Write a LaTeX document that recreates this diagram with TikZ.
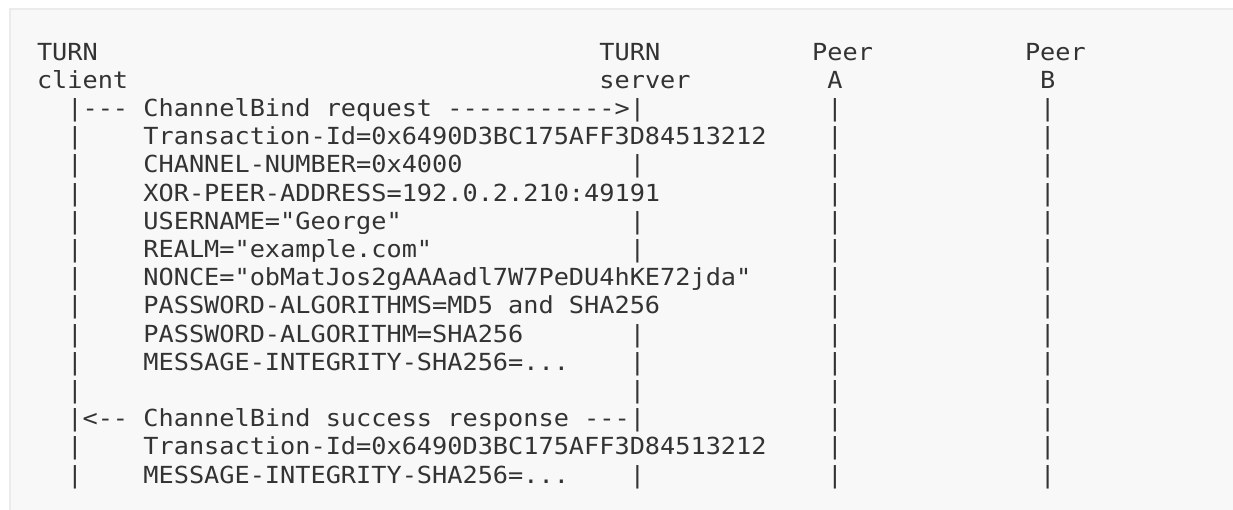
\documentclass[tikz,border=0pt]{standalone}
\usepackage{fontspec}
\setmonofont{DejaVu Sans Mono}[FakeStretch=1.0744]
\definecolor{ink}{HTML}{333333}
\definecolor{panel}{HTML}{F8F8F8}
\definecolor{rim}{HTML}{EBEBEB}
\begin{document}
\begin{tikzpicture}[x=1pt,y=1pt,
  txt/.style={anchor=base west, inner sep=0pt, outer sep=0pt, text=ink,
              font=\ttfamily\fontsize{23.5}{28.2}\selectfont},
  lifebar/.style={txt}]
\def\cw{15.2}\def\lh{28.2}\def\xo{37}\def\yo{60}
\useasboundingbox (0,0) rectangle (1233,-509);
\clip (0,0) rectangle (1233,-509);
\fill[white] (0,0) rectangle (1233,-509);
\filldraw[fill=panel, draw=rim, line width=2pt] (10,-9) rectangle (1260,-540);
% headers
\node[txt] (clientT) at ({\xo+0*\cw},{-\yo-0*\lh}) {TURN};
\node[txt] (clientL) at ({\xo+0*\cw},{-\yo-1*\lh}) {client};
\node[txt] (serverT) at ({\xo+37*\cw},{-\yo-0*\lh}) {TURN};
\node[txt] (serverL) at ({\xo+37*\cw},{-\yo-1*\lh}) {server};
\node[txt] (peerAT) at ({\xo+51*\cw},{-\yo-0*\lh}) {Peer};
\node[txt] (peerAL) at ({\xo+52*\cw},{-\yo-1*\lh}) {A};
\node[txt] (peerBT) at ({\xo+65*\cw},{-\yo-0*\lh}) {Peer};
\node[txt] (peerBL) at ({\xo+66*\cw},{-\yo-1*\lh}) {B};
% lifeline bars
\foreach \r in {2,...,15}{
  \node[lifebar] (cbar\r) at ({\xo+2*\cw},{-\yo-\r*\lh}) {|};
  \node[lifebar] (abar\r) at ({\xo+52*\cw},{-\yo-\r*\lh}) {|};
  \node[lifebar] (bbar\r) at ({\xo+66*\cw},{-\yo-\r*\lh}) {|};
}
\foreach \r in {2,4,6,7,10,11,12,13,15}{
  \node[lifebar] (sbar\r) at ({\xo+39*\cw},{-\yo-\r*\lh}) {|};
}
% messages
\node[txt] (req) at ({\xo+3*\cw},{-\yo-2*\lh}) {--- ChannelBind request ----------->};
\node[txt] (m3) at ({\xo+7*\cw},{-\yo-3*\lh}) {Transaction-Id=0x6490D3BC175AFF3D84513212};
\node[txt] (m4) at ({\xo+7*\cw},{-\yo-4*\lh}) {CHANNEL-NUMBER=0x4000};
\node[txt] (m5) at ({\xo+7*\cw},{-\yo-5*\lh}) {XOR-PEER-ADDRESS=192.0.2.210:49191};
\node[txt] (m6) at ({\xo+7*\cw},{-\yo-6*\lh}) {USERNAME="George"};
\node[txt] (m7) at ({\xo+7*\cw},{-\yo-7*\lh}) {REALM="example.com"};
\node[txt] (m8) at ({\xo+7*\cw},{-\yo-8*\lh}) {NONCE="obMatJos2gAAAadl7W7PeDU4hKE72jda"};
\node[txt] (m9) at ({\xo+7*\cw},{-\yo-9*\lh}) {PASSWORD-ALGORITHMS=MD5 and SHA256};
\node[txt] (m10) at ({\xo+7*\cw},{-\yo-10*\lh}) {PASSWORD-ALGORITHM=SHA256};
\node[txt] (m11) at ({\xo+7*\cw},{-\yo-11*\lh}) {MESSAGE-INTEGRITY-SHA256=...};
\node[txt] (resp) at ({\xo+3*\cw},{-\yo-13*\lh}) {<-- ChannelBind success response ---};
\node[txt] (m14) at ({\xo+7*\cw},{-\yo-14*\lh}) {Transaction-Id=0x6490D3BC175AFF3D84513212};
\node[txt] (m15) at ({\xo+7*\cw},{-\yo-15*\lh}) {MESSAGE-INTEGRITY-SHA256=...};
\end{tikzpicture}
\end{document}
